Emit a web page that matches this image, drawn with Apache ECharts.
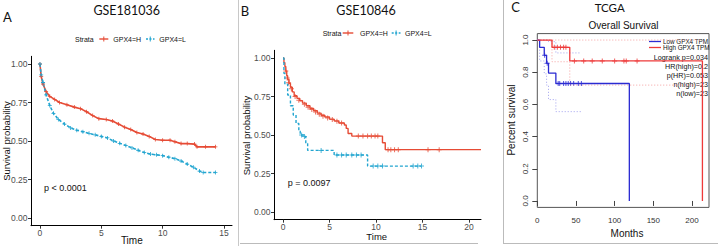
<!DOCTYPE html>
<html><head><meta charset="utf-8">
<script src="https://cdn.jsdelivr.net/npm/echarts@6/dist/echarts.min.js"></script>
<style>html,body{margin:0;padding:0;background:#fff}#c{width:718px;height:246px}</style>
</head><body><div id="c"></div>
<script>
// ---------- Panel A : GSE181036 ----------
const A_xTicks = [0, 5, 10, 15];
const A_yTicks = [0, 0.25, 0.5, 0.75, 1];
const A_high = [[0,1.0],[0.1,0.92],[0.25,0.87],[0.5,0.82],[0.8,0.79],[1.2,0.77],[1.6,0.75],[2.2,0.735],[2.8,0.72],[3.3,0.71],[3.8,0.69],[4.3,0.665],[4.8,0.645],[5.4,0.64],[5.9,0.63],[6.4,0.61],[6.9,0.59],[7.4,0.575],[7.9,0.555],[8.4,0.545],[8.9,0.53],[9.4,0.51],[10.0,0.505],[10.6,0.505],[11.0,0.495],[11.5,0.483],[12.0,0.483],[12.6,0.48],[12.8,0.462],[13.5,0.462],[14.3,0.462]];
const A_low = [[0,1.0],[0.1,0.93],[0.25,0.88],[0.5,0.8],[0.8,0.73],[1.1,0.68],[1.5,0.64],[2.0,0.61],[2.5,0.585],[3.0,0.57],[3.5,0.56],[4.0,0.55],[4.5,0.54],[5.0,0.53],[5.5,0.52],[6.0,0.5],[6.5,0.485],[7.0,0.47],[7.5,0.455],[8.0,0.44],[8.5,0.425],[9.0,0.415],[9.5,0.41],[10.0,0.405],[10.5,0.395],[11.0,0.385],[11.5,0.37],[12.0,0.35],[12.5,0.33],[13.0,0.305],[13.3,0.295],[14.3,0.295]];

// ---------- Panel B : GSE10846 ----------
const B_xTicks = [0, 5, 10, 15, 20];
const B_yTicks = [0, 0.25, 0.5, 0.75, 1];
const B_high = [[0,1.0],[0.1,0.97],[0.2,0.945],[0.3,0.915],[0.4,0.885],[0.5,0.86],[0.65,0.835],[0.8,0.81],[1.0,0.78],[1.2,0.755],[1.5,0.738],[1.8,0.722],[2.1,0.707],[2.5,0.69],[2.9,0.672],[3.3,0.657],[3.7,0.642],[4.1,0.628],[4.5,0.617],[5.0,0.603],[5.5,0.592],[6.0,0.578],[6.6,0.565],[6.8,0.543],[7.0,0.51],[7.4,0.493],[10.7,0.45],[11.0,0.405],[21.3,0.405]];
const B_low = [[0,1.0],[0.1,0.9],[0.2,0.83],[0.5,0.76],[0.8,0.69],[1.1,0.63],[1.4,0.575],[1.7,0.525],[1.85,0.5],[2.2,0.49],[2.45,0.445],[2.65,0.4],[5.5,0.37],[9.1,0.298],[14.9,0.298]];
const B_highCensor = [[0.3,0.915],[0.45,0.87],[0.6,0.84],[0.9,0.8],[1.3,0.75],[1.7,0.725],[2.3,0.7],[2.7,0.68],[3.1,0.665],[3.5,0.65],[3.9,0.635],[4.3,0.622],[4.8,0.61],[5.3,0.6],[5.8,0.59],[6.3,0.578],[8.1,0.493],[8.6,0.493],[9.1,0.493],[9.5,0.493],[9.9,0.493],[10.2,0.493],[11.3,0.405],[11.6,0.405],[12.0,0.405],[12.4,0.405],[15.6,0.405],[16.8,0.405]];
const B_lowCensor = [[2.0,0.5],[2.3,0.49],[4.1,0.4],[5.8,0.37],[6.3,0.37],[6.8,0.37],[7.4,0.37],[7.9,0.37],[8.4,0.37],[9.7,0.298],[10.2,0.298],[10.7,0.298],[14.0,0.298],[14.5,0.298],[14.9,0.298]];

// ---------- Panel C : TCGA ----------
const C_xTicks = [0, 50, 100, 150, 200];
const C_yTicks = [0, 0.2, 0.4, 0.6, 0.8, 1.0];
const C_low = [[0,1],[3,0.955],[9,0.905],[12,0.855],[14.5,0.795],[24,0.73],[119,0]];
const C_high = [[0,1],[19,0.955],[42,0.87],[213.5,0]];
const C_lowCensor = [[9.5,0.905],[12.8,0.855],[27,0.73],[29,0.73],[34,0.73],[37,0.73],[40,0.73],[43,0.73],[47,0.73],[53,0.73],[57,0.73]];
const C_highCensor = [[22,0.955],[26,0.955],[30,0.955],[34,0.955],[37,0.955],[48,0.87],[60,0.87],[71,0.87],[84,0.87],[100,0.87],[112,0.87],[115,0.87],[129,0.87]];
const C_highCiLower = [[0,1],[19,0.865],[42,0.72],[213.5,0.72]];
const C_highCiUpper = [[0,1],[213.5,1]];
const C_lowCiLower = [[0,1],[3,0.87],[9,0.79],[12,0.72],[14.5,0.63],[24,0.555],[57,0.555]];
const C_lowCiUpper = [[0,1],[14.5,0.99],[24,0.92],[57,0.92]];
const C_legend = ['Low GPX4 TPM', 'High GPX4 TPM'];
const C_stats = ['Logrank p=0.034', 'HR(high)=0.2', 'p(HR)=0.053', 'n(high)=23', 'n(low)=23'];

// ---------- styling ----------
const RED = '#E64B35', BLUE = '#22A5D0';
const CRED = '#EE3A3A', CBLUE = '#2B2BD2';
const SANS = 'Liberation Sans, Arial, sans-serif';
const TITLEF = 'Lato, Open Sans, sans-serif';
const CROSS = 'path://M4,0H6V4H10V6H6V10H4V6H0V4H4Z';

function ggX(gi, min, max, ticks) {
  return {type:'value', gridIndex:gi, min, max,
    axisLine:{show:true, onZero:false, lineStyle:{color:'#000', width:1}},
    axisTick:{show:true, customValues:ticks, length:3, lineStyle:{color:'#333'}},
    axisLabel:{customValues:ticks, color:'#4d4d4d', fontSize:8.5, fontFamily:SANS, margin:2.5},
    splitLine:{show:false}};
}
function ggY(gi, ticks) {
  return {type:'value', gridIndex:gi, min:-0.05, max:1.05,
    axisLine:{show:true, onZero:false, lineStyle:{color:'#000', width:1}},
    axisTick:{show:true, customValues:ticks, length:3, lineStyle:{color:'#333'}},
    axisLabel:{customValues:ticks, color:'#4d4d4d', fontSize:8.5, fontFamily:SANS, margin:3.5,
      formatter:v => v.toFixed(2)},
    splitLine:{show:false}};
}

const option = {
  animation:false,
  grid:[
    {left:31, top:56.3, width:201, height:169.4, containLabel:false},
    {left:274, top:50.3, width:207, height:169.4, containLabel:false},
    {left:537.3, top:33.6, width:171.7, height:173.8, containLabel:false, show:true, borderColor:'#555', borderWidth:1, backgroundColor:'transparent'}
  ],
  xAxis:[
    ggX(0, -0.73, 15.65, A_xTicks),
    ggX(1, -0.97, 21.3, B_xTicks),
    {type:'value', gridIndex:2, min:0, max:222,
      axisLine:{show:false}, splitLine:{show:false},
      axisTick:{show:true, customValues:C_xTicks, length:5, lineStyle:{color:'#444'}},
      axisLabel:{customValues:C_xTicks, color:'#333', fontSize:8, fontFamily:SANS, margin:9}}
  ],
  yAxis:[
    ggY(0, A_yTicks),
    ggY(1, B_yTicks),
    {type:'value', gridIndex:2, min:-0.04, max:1.04,
      axisLine:{show:false}, splitLine:{show:false},
      axisTick:{show:true, customValues:C_yTicks, length:5, lineStyle:{color:'#444'}},
      axisLabel:{customValues:C_yTicks, color:'#333', fontSize:8, fontFamily:SANS, margin:8, rotate:90,
        formatter:v => v.toFixed(1)}}
  ],
  series:[
    // Panel A
    {type:'line', xAxisIndex:0, yAxisIndex:0, data:A_high, showSymbol:true, symbol:CROSS, symbolSize:4,
      itemStyle:{color:RED}, lineStyle:{color:RED, width:1.6}},
    {type:'line', xAxisIndex:0, yAxisIndex:0, data:A_low, showSymbol:true, symbol:CROSS, symbolSize:4,
      itemStyle:{color:BLUE}, lineStyle:{color:BLUE, width:1.6, type:[3,2]}},
    // Panel B
    {type:'line', xAxisIndex:1, yAxisIndex:1, data:B_high, step:'end', showSymbol:false,
      lineStyle:{color:RED, width:1.4}},
    {type:'line', xAxisIndex:1, yAxisIndex:1, data:B_low, step:'end', showSymbol:false,
      lineStyle:{color:BLUE, width:1.4, type:[3,2]}},
    {type:'scatter', xAxisIndex:1, yAxisIndex:1, data:B_highCensor, symbol:CROSS, symbolSize:5, itemStyle:{color:RED}},
    {type:'scatter', xAxisIndex:1, yAxisIndex:1, data:B_lowCensor, symbol:CROSS, symbolSize:5, itemStyle:{color:BLUE}},
    // Panel C confidence bands
    {type:'line', xAxisIndex:2, yAxisIndex:2, data:C_highCiUpper, step:'end', showSymbol:false,
      lineStyle:{color:'#F4A0A0', width:1, type:[1,2]}},
    {type:'line', xAxisIndex:2, yAxisIndex:2, data:C_highCiLower, step:'end', showSymbol:false,
      lineStyle:{color:'#F4A0A0', width:1, type:[1,2]}},
    {type:'line', xAxisIndex:2, yAxisIndex:2, data:C_lowCiUpper, step:'end', showSymbol:false,
      lineStyle:{color:'#A0A0EE', width:1, type:[1,2]}},
    {type:'line', xAxisIndex:2, yAxisIndex:2, data:C_lowCiLower, step:'end', showSymbol:false,
      lineStyle:{color:'#A0A0EE', width:1, type:[1,2]}},
    // Panel C curves
    {type:'line', xAxisIndex:2, yAxisIndex:2, data:C_low, step:'end', showSymbol:false,
      lineStyle:{color:CBLUE, width:1.3}},
    {type:'line', xAxisIndex:2, yAxisIndex:2, data:C_high, step:'end', showSymbol:false,
      lineStyle:{color:CRED, width:1.3}},
    {type:'scatter', xAxisIndex:2, yAxisIndex:2, data:C_lowCensor, symbol:CROSS, symbolSize:5, itemStyle:{color:CBLUE}},
    {type:'scatter', xAxisIndex:2, yAxisIndex:2, data:C_highCensor, symbol:CROSS, symbolSize:5, itemStyle:{color:CRED}}
  ],
  graphic:[]
};

function txt(text, x, y, size, opts) {
  opts = opts || {};
  return {type:'text', x, y, rotation:opts.rot || 0, silent:true,
    style:{text, x:0, y:0, fill:opts.fill || '#111', font:(opts.weight||'normal') + ' ' + size + 'px ' + (opts.family || SANS),
      align:opts.align || 'center', verticalAlign:'middle'}};
}
function ln(x1,y1,x2,y2,color,width,dash) {
  return {type:'line', silent:true, shape:{x1,y1,x2,y2}, style:{stroke:color, lineWidth:width||1, lineDash:dash||null}};
}
function legSym(x1,x2,y,color,dash) {
  const m = (x1+x2)/2;
  return [ln(x1,y,x2,y,color,1.4,dash), ln(m,y-2.5,m,y+2.5,color,1)];
}
const g = option.graphic;
// panel letters and titles
g.push(txt('A', 7.5, 17, 13, {family:TITLEF}));
g.push(txt('GSE181036', 126.7, 10, 12.5, {family:TITLEF}));
g.push(txt('B', 245, 11, 13, {family:TITLEF}));
g.push(txt('GSE10846', 366, 10, 12.5, {family:TITLEF}));
g.push(txt('C', 515.5, 6.5, 13, {family:TITLEF}));
g.push(txt('TCGA', 609.7, 7.5, 11.5, {family:TITLEF}));
g.push(txt('Overall Survival', 623.5, 25, 10));
// panel A legend
g.push(txt('Strata', 75, 39, 7, {align:'left'}));
legSym(99.3,108.3,39,RED).forEach(e=>g.push(e));
g.push(txt('GPX4=H', 113.3, 39, 7, {align:'left'}));
legSym(146,154.5,39,BLUE,[2,1.5]).forEach(e=>g.push(e));
g.push(txt('GPX4=L', 159.3, 39, 7, {align:'left'}));
// panel B legend
g.push(txt('Strata', 322.7, 33, 7, {align:'left'}));
legSym(342.7,353.3,33,RED).forEach(e=>g.push(e));
g.push(txt('GPX4=H', 360, 33, 7, {align:'left'}));
legSym(391.7,400.5,33,BLUE,[2,1.5]).forEach(e=>g.push(e));
g.push(txt('GPX4=L', 405, 33, 7, {align:'left'}));
// axis titles
g.push(txt('Survival probability', 6.5, 141, 9.5, {rot:Math.PI/2}));
g.push(txt('Time', 131.8, 240.5, 10));
g.push(txt('Survival probability', 246.7, 135.5, 9.5, {rot:Math.PI/2}));
g.push(txt('Time', 376.7, 236.3, 9.5));
g.push(txt('Percent survival', 511, 120, 10, {rot:Math.PI/2}));
g.push(txt('Months', 627, 233.5, 10));
// p values
g.push(txt('p < 0.0001', 44, 188, 9, {align:'left'}));
g.push(txt('p = 0.0097', 287.7, 182.7, 9, {align:'left'}));
// panel C legend
g.push(ln(649,41.5,661,41.5,CBLUE,1.3));
g.push(ln(649,47.5,661,47.5,CRED,1.3));
g.push(txt(C_legend[0], 663, 41.3, 6.3, {align:'left'}));
g.push(txt(C_legend[1], 663, 47.6, 6.3, {align:'left'}));
C_stats.forEach((s,i)=>g.push(txt(s, 708, 57.3 + i*9.1, 7.2, {align:'right'})));
// panel frame lines
g.push(ln(238.5,0,238.5,246,'#c8c8c8',1));
g.push(ln(240,243.5,478,243.5,'#bbbbbb',1));
g.push(ln(503.5,0,503.5,243.5,'#bbbbbb',1));
g.push(ln(503,243.5,718,243.5,'#bbbbbb',1));

const chart = echarts.init(document.getElementById('c'), null, {renderer:'svg', width:718, height:246});
chart.setOption(option);
</script>
</body></html>
